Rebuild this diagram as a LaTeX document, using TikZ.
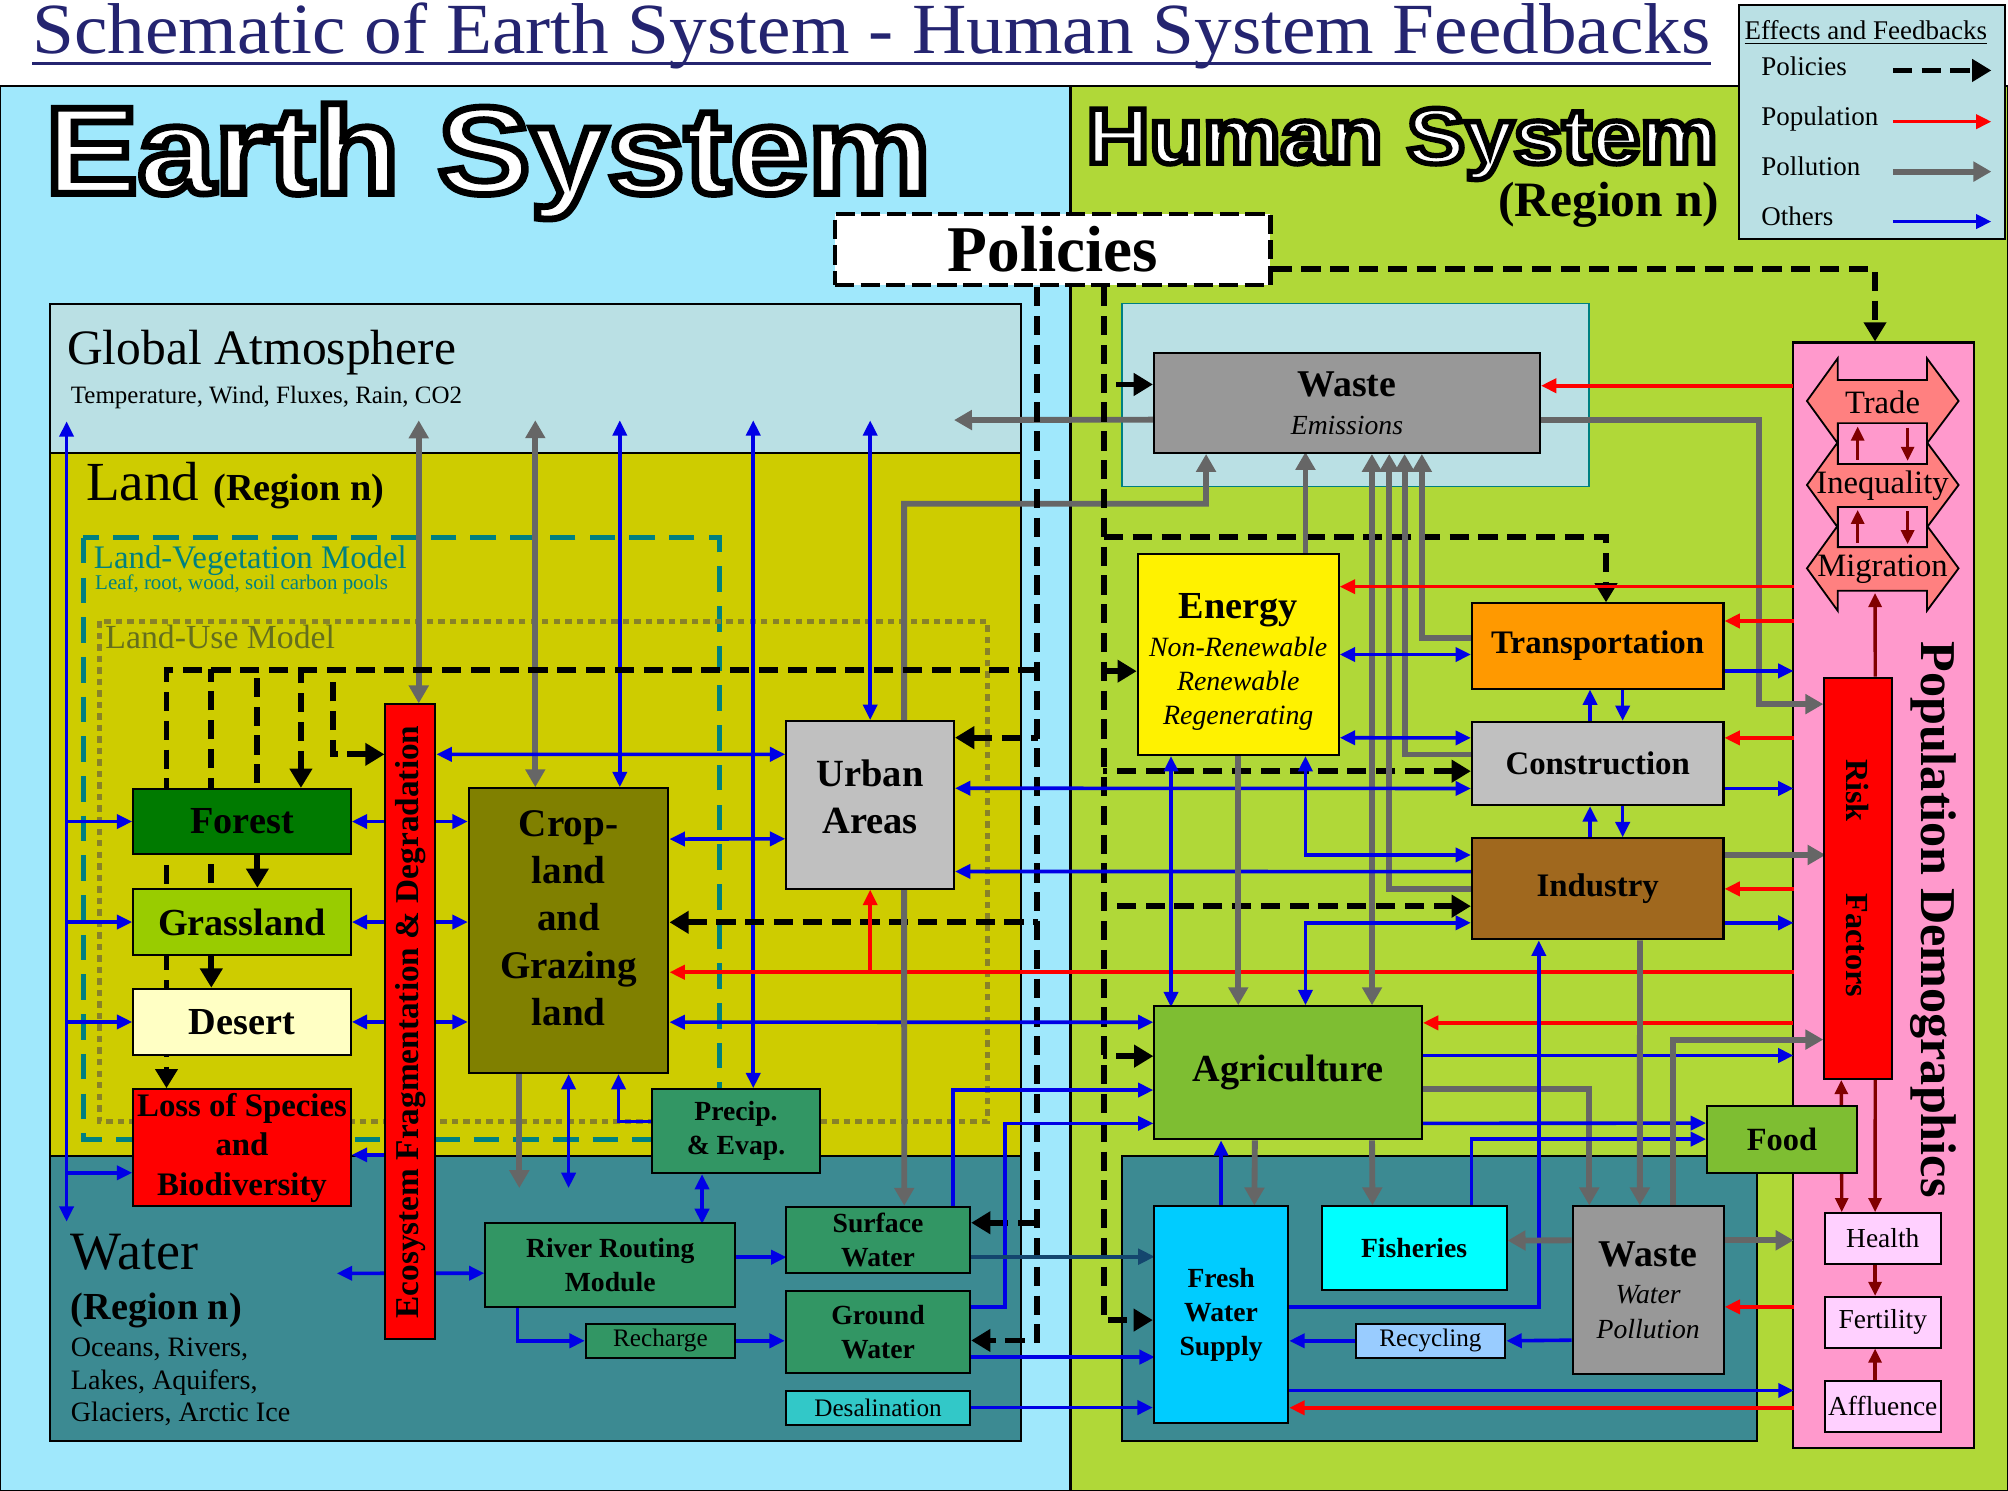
\documentclass[tikz,border=0pt]{standalone}
\usepackage{fontspec}
\setmainfont{Liberation Serif}
\newfontfamily\headfont{Liberation Sans}
\usetikzlibrary{arrows.meta}
\pgfdeclarelayer{back}
\pgfdeclarelayer{mid}
\pgfsetlayers{back,mid,main}
\definecolor{earthbg}{RGB}{160,232,252}
\definecolor{humanbg}{RGB}{176,216,56}
\definecolor{atmos}{RGB}{186,224,228}
\definecolor{landfill}{RGB}{206,204,0}
\definecolor{waterfill}{RGB}{60,138,146}
\definecolor{forestc}{RGB}{0,122,0}
\definecolor{grassc}{RGB}{153,204,0}
\definecolor{desertc}{RGB}{255,255,196}
\definecolor{cropc}{RGB}{128,128,0}
\definecolor{urbanc}{RGB}{192,192,192}
\definecolor{hydroc}{RGB}{50,150,100}
\definecolor{desalc}{RGB}{50,200,200}
\definecolor{wastec}{RGB}{152,152,152}
\definecolor{transc}{RGB}{255,153,0}
\definecolor{indc}{RGB}{160,104,30}
\definecolor{agric}{RGB}{126,190,50}
\definecolor{freshc}{RGB}{0,204,255}
\definecolor{fishc}{RGB}{0,255,255}
\definecolor{recyc}{RGB}{153,204,255}
\definecolor{popc}{RGB}{255,153,204}
\definecolor{healthc}{RGB}{255,208,255}
\definecolor{tradec}{RGB}{255,128,128}
\definecolor{titlec}{RGB}{36,36,112}
\definecolor{tealdash}{RGB}{0,128,128}
\definecolor{olivedot}{RGB}{136,130,40}
\definecolor{lutext}{RGB}{100,110,30}
\definecolor{cblue}{RGB}{0,0,230}
\definecolor{cred}{RGB}{255,0,0}
\definecolor{cgrey}{RGB}{102,102,102}
\definecolor{cdred}{RGB}{128,0,0}
\definecolor{cdeep}{RGB}{20,70,110}

\begin{document}
\begin{tikzpicture}[x=0.02cm, y=-0.02cm,
  box/.style={draw=black, line width=0.9pt, align=center, inner sep=0pt},
  lbl17/.style={font=\fontsize{17}{21}\selectfont\bfseries},
  lbl15/.style={font=\fontsize{14.6}{17.6}\selectfont\bfseries},
  lbl12/.style={font=\fontsize{12.3}{15}\selectfont\bfseries},
  lbl11/.style={font=\fontsize{11.2}{13}\selectfont},
  blu/.style={draw=cblue, line width=1.6pt, >={Triangle[length=0.24cm,width=0.22cm]}},
  dblu/.style={draw=cdeep, line width=1.8pt, >={Triangle[length=0.26cm,width=0.24cm]}},
  rd/.style={draw=cred, line width=1.6pt, >={Triangle[length=0.24cm,width=0.22cm]}},
  drd/.style={draw=cdred, line width=1.5pt, >={Triangle[length=0.22cm,width=0.2cm]}},
  gry/.style={draw=cgrey, line width=2.6pt, >={Triangle[length=0.28cm,width=0.3cm]}},
  pol/.style={draw=black, line width=2.6pt, dash pattern=on 0.3cm off 0.15cm, >={Triangle[length=0.3cm,width=0.34cm]}}]
%%%%%%%%%%%%%%%%%%%%%%%%%%%%%%%%%%%%%%%%%%% HELP LINES
%\draw[help lines] (0,0) grid (1568,1164);
\useasboundingbox (0,0) rectangle (1568,1164);

%%%%%%%%%%%%%%%%%%%%%%%%%%%%%%%%%%%%%%%%%%% regions
\begin{pgfonlayer}{back}
\fill[white] (0,0) rectangle (1568,1164);
\fill[earthbg] (0,67) rectangle (836,1164);
\fill[humanbg] (836,67) rectangle (1568,1164);
\draw[line width=1pt] (0,67) rectangle (1568,1164);
\draw[line width=1pt] (836,67) -- (836,1164);
\draw[fill=atmos, line width=0.9pt] (39,237) rectangle (797,354);
\draw[fill=landfill, line width=0.9pt] (39,354) rectangle (797,903);
\draw[fill=waterfill, line width=0.9pt] (39,903) rectangle (797,1125);
\draw[tealdash, line width=2.2pt, dash pattern=on 0.4cm off 0.22cm] (65,420) rectangle (562,890);
\draw[olivedot, line width=2.2pt, dash pattern=on 0.1cm off 0.08cm] (78,485) rectangle (771,876);
\draw[fill=atmos, draw=tealdash, line width=0.7pt] (876,237) rectangle (1241,380);
\draw[fill=waterfill, line width=0.9pt] (876,903) rectangle (1372,1125);
\node[draw, line width=0.9pt, fill=popc, minimum width=2.834cm, minimum height=17.27cm, inner sep=0pt] (pop) at (1470.65,699.1) {};
\end{pgfonlayer}

%%%%%%%%%%%%%%%%%%%%%%%%%%%%%%%%%%%%%%%%%%% titles
\node[anchor=base west, inner sep=0pt, text=titlec, font=\fontsize{32}{36}\selectfont] (title) at (25,42) {\scalebox{1.045}[1]{Schematic of Earth System - Human System Feedbacks}};
\draw[titlec, line width=1.6pt] ([yshift=-0.15cm]title.base west) -- ([yshift=-0.15cm]title.base east);
\node[anchor=base west, inner sep=0pt, text=white, font=\fontsize{55}{60}\selectfont\headfont\bfseries] (earthtitle) at (35,151) {\special{pdf:literal direct 0 0 0 RG 2 Tr 3 w}\scalebox{1.12}[1]{Earth System}\special{pdf:literal direct 0 Tr}};
\node[anchor=base west, inner sep=0pt, text=white, font=\fontsize{35}{40}\selectfont\headfont\bfseries] (humantitle) at (848,127.5) {\special{pdf:literal direct 0 0 0 RG 2 Tr 2.4 w}\scalebox{1.11}[1]{Human System}\special{pdf:literal direct 0 Tr}};
\node[anchor=base east, inner sep=0pt, font=\fontsize{22}{26}\selectfont\bfseries] (humanregion) at (1343,169) {(Region n)};

%%%%% legend
\node[draw, line width=0.9pt, fill=atmos, minimum width=4.16cm, minimum height=3.66cm, inner sep=0pt] (legend) at (1462,95.5) {};
\node[anchor=base west, inner sep=0pt, font=\fontsize{12}{14}\selectfont] (legtitle) at (1362,31) {\underline{Effects and Feedbacks}};
\node[anchor=base west, inner sep=0pt, font=\fontsize{12}{14}\selectfont] (legpol) at (1375,59) {Policies};
\node[anchor=base west, inner sep=0pt, font=\fontsize{12}{14}\selectfont] (legpop) at (1375,98) {Population};
\node[anchor=base west, inner sep=0pt, font=\fontsize{12}{14}\selectfont] (legpoll) at (1375,137) {Pollution};
\node[anchor=base west, inner sep=0pt, font=\fontsize{12}{14}\selectfont] (legoth) at (1375,176) {Others};
\draw[pol,->] (1478,55) -- (1555,55);
\draw[rd,->] (1478,95) -- (1555,95);
\draw[gry,->] (1478,134) -- (1555,134);
\draw[blu,->] (1478,173) -- (1555,173);

%%%%%%%%%%%%%%%%%%%%%%%%%%%%%%%%%%%%%%%%%%% earth system labels
\node[anchor=base west, inner sep=0pt, font=\fontsize{22}{26}\selectfont] (atmtxt) at (52,285) {Global Atmosphere};
\node[anchor=base west, inner sep=0pt, font=\fontsize{11.1}{13}\selectfont] (atmsub) at (55,315) {Temperature, Wind, Fluxes, Rain, CO2};
\node[anchor=base west, inner sep=0pt, font=\fontsize{24.5}{28}\selectfont] (landtxt) at (67,391) {Land {\bfseries\fontsize{17}{20}\selectfont (Region n)}};
\node[anchor=base west, inner sep=0pt, text=tealdash, font=\fontsize{14.6}{17}\selectfont] (lvmtxt) at (73,444) {Land-Vegetation Model};
\node[anchor=base west, inner sep=0pt, text=tealdash, font=\fontsize{9.3}{11}\selectfont] (lvmsub) at (74,460) {Leaf, root, wood, soil carbon pools};
\node[anchor=base west, inner sep=0pt, text=lutext, font=\fontsize{15}{17}\selectfont] (lumtxt) at (82,506) {Land-Use Model};
\node[anchor=base west, inner sep=0pt, font=\fontsize{24}{28}\selectfont] (watertxt) at (55,991) {Water};
\node[anchor=base west, inner sep=0pt, font=\fontsize{17}{20}\selectfont\bfseries] (waterreg) at (55,1030) {(Region n)};
\node[anchor=base west, inner sep=0pt, font=\fontsize{12.5}{14}\selectfont] (watsub1) at (55,1059) {Oceans, Rivers,};
\node[anchor=base west, inner sep=0pt, font=\fontsize{12.5}{14}\selectfont] (watsub2) at (55,1085) {Lakes, Aquifers,};
\node[anchor=base west, inner sep=0pt, font=\fontsize{12.5}{14}\selectfont] (watsub3) at (55,1110) {Glaciers, Arctic Ice};

%%%%%%%%%%%%%%%%%%%%%%%%%%%%%%%%%%%%%%%%%%% earth elements
\node[box, fill=white, draw=black, line width=2pt, dash pattern=on 0.3cm off 0.1cm, minimum width=6.8cm, minimum height=1.11cm, font=\fontsize{29}{32}\selectfont\bfseries] (policies) at (822,194.8) {Policies};
\node[box, fill=forestc, minimum width=3.4cm, minimum height=1.02cm, lbl17] (forest) at (189,641.5) {Forest};
\node[box, fill=grassc, minimum width=3.4cm, minimum height=1.04cm, lbl17] (grass) at (189,720) {Grassland};
\node[box, fill=desertc, minimum width=3.4cm, minimum height=1.04cm, lbl17] (desert) at (189,798) {Desert};
\node[box, fill=red, minimum width=3.4cm, minimum height=1.83cm, lbl15] (loss) at (189,896.3) {Loss of Species\\and\\Biodiversity};
\node[box, fill=red, minimum width=0.78cm, minimum height=9.92cm, font=\fontsize{14.8}{17}\selectfont\bfseries] (ecobar) at (320.5,798) {\rotatebox{90}{Ecosystem Fragmentation \& Degradation}};
\node[box, fill=cropc, minimum width=3.12cm, minimum height=4.45cm] (crop) at (444,726.7) {};
\node[align=center, inner sep=0pt, font=\fontsize{17.4}{21}\selectfont\bfseries] (croptxt) at (444,717) {Crop-\\land\\and\\Grazing\\land};
\node[box, fill=urbanc, minimum width=2.62cm, minimum height=2.62cm] (urban) at (679.5,628.5) {};
\node[align=center, inner sep=0pt, font=\fontsize{17.1}{21}\selectfont\bfseries] (urbantxt) at (679.5,622.5) {Urban\\Areas};
\node[box, fill=hydroc, minimum width=2.61cm, minimum height=1.31cm, lbl12] (precip) at (574.7,883.3) {Precip.\\\& Evap.};
\node[box, fill=hydroc, minimum width=3.9cm, minimum height=1.31cm, lbl12] (rr) at (476.5,987.7) {River Routing\\Module};
\node[box, fill=hydroc, minimum width=2.33cm, minimum height=0.54cm, lbl11] (recharge) at (515.7,1047) {Recharge};
\node[box, fill=hydroc, minimum width=2.88cm, minimum height=1.04cm, lbl12] (surface) at (685.6,968.3) {Surface\\Water};
\node[box, fill=hydroc, minimum width=2.88cm, minimum height=1.29cm, lbl12] (ground) at (685.6,1040.2) {Ground\\Water};
\node[box, fill=desalc, minimum width=2.88cm, minimum height=0.53cm, lbl11] (desal) at (685.6,1099.1) {Desalination};

%%%%%%%%%%%%%%%%%%%%%%%%%%%%%%%%%%%%%%%%%%% human elements
\node[box, fill=wastec, minimum width=6.03cm, minimum height=1.56cm, font=\fontsize{12.3}{16}\selectfont] (wasteE) at (1051.8,314.7) {{\fontsize{16.8}{20}\selectfont\bfseries Waste}\\[1pt]{\itshape Emissions}};
\node[box, fill=yellow, minimum width=3.14cm, minimum height=3.14cm] (energy) at (966.9,511.1) {};
\node[align=center, inner sep=0pt, font=\fontsize{12.4}{15.1}\selectfont] (energytxt) at (966.9,517) {{\fontsize{17}{20}\selectfont\bfseries Energy}\\[2pt]{\itshape Non-Renewable}\\{\itshape Renewable}\\{\itshape Regenerating}};
\node[box, fill=transc, minimum width=3.93cm, minimum height=1.33cm, lbl15] (transport) at (1247.6,504.4) {Transportation};
\node[box, fill=urbanc, minimum width=3.93cm, minimum height=1.3cm, lbl15] (constr) at (1247.6,596.2) {Construction};
\node[box, fill=indc, minimum width=3.93cm, minimum height=1.58cm, lbl15] (industry) at (1247.6,694.1) {Industry};
\node[box, fill=agric, minimum width=4.18cm, minimum height=2.08cm, lbl17] (agri) at (1005.9,837.7) {Agriculture};
\node[box, fill=agric, minimum width=2.34cm, minimum height=1.05cm, font=\fontsize{14.4}{17}\selectfont\bfseries] (food) at (1391.5,889.5) {Food};
\node[box, fill=freshc, minimum width=2.1cm, minimum height=3.39cm, lbl12] (fresh) at (953.5,1026.8) {Fresh\\Water\\Supply};
\node[box, fill=fishc, minimum width=2.89cm, minimum height=1.31cm, lbl12] (fish) at (1104.2,974.7) {Fisheries};
\node[box, fill=wastec, minimum width=2.36cm, minimum height=2.62cm, font=\fontsize{12.3}{15.3}\selectfont] (wasteW) at (1287,1007.5) {{\fontsize{16.8}{20}\selectfont\bfseries Waste}\\[1pt]{\itshape Water}\\{\itshape Pollution}};
\node[box, fill=recyc, minimum width=2.34cm, minimum height=0.53cm, lbl11] (recyc) at (1117,1047) {Recycling};

%%%%% population demographics
\node[inner sep=0pt, font=\fontsize{22.3}{26}\selectfont\bfseries] (poptxt) at (1510,718) {\rotatebox{-90}{Population Demographics}};
\node[box, fill=red, minimum width=1.05cm, minimum height=6.27cm, font=\fontsize{14.3}{17}\selectfont\bfseries] (risk) at (1450.8,685.8) {\rotatebox{-90}{Risk\hspace{1.12cm}Factors}};
\node[box, fill=healthc, minimum width=1.82cm, minimum height=0.79cm, font=\fontsize{12.2}{14}\selectfont] (health) at (1470.2,967.1) {Health};
\node[box, fill=healthc, minimum width=1.82cm, minimum height=0.79cm, font=\fontsize{12.2}{14}\selectfont] (fert) at (1470.2,1032.5) {Fertility};
\node[box, fill=healthc, minimum width=1.82cm, minimum height=0.79cm, font=\fontsize{12.2}{14}\selectfont] (affl) at (1470.2,1098.1) {Affluence};
\foreach \cy in {313.1,378.7,443.8}
  \filldraw[fill=tradec, draw=black, line width=0.8pt] (1411,\cy) -- (1435,{\cy-33.3}) -- (1435,{\cy-16.4}) -- (1504.7,{\cy-16.4}) -- (1504.7,{\cy-33.3}) -- (1529.4,\cy) -- (1504.7,{\cy+33.1}) -- (1504.7,{\cy+17.5}) -- (1435,{\cy+17.5}) -- (1435,{\cy+33.1}) -- cycle;
\node[inner sep=0pt, font=\fontsize{14.5}{17}\selectfont] (trade) at (1470,314) {Trade};
\node[inner sep=0pt, font=\fontsize{14.5}{17}\selectfont] (ineq) at (1470,379.5) {Inequality};
\node[inner sep=0pt, font=\fontsize{14.5}{17}\selectfont] (migr) at (1470,444.5) {Migration};
\node[draw, line width=0.8pt, fill=popc, minimum width=1.39cm, minimum height=0.63cm, inner sep=0pt] (link1) at (1469.85,346.45) {};
\node[draw, line width=0.8pt, fill=popc, minimum width=1.39cm, minimum height=0.63cm, inner sep=0pt] (link2) at (1469.85,411.55) {};
\draw[drd,->] ([xshift=-0.385cm,yshift=0.08cm]link1.south) -- ([xshift=-0.385cm,yshift=-0.06cm]link1.north);
\draw[drd,->] ([xshift=0.395cm,yshift=-0.08cm]link1.north) -- ([xshift=0.395cm,yshift=0.06cm]link1.south);
\draw[drd,->] ([xshift=-0.385cm,yshift=0.08cm]link2.south) -- ([xshift=-0.385cm,yshift=-0.06cm]link2.north);
\draw[drd,->] ([xshift=0.395cm,yshift=-0.08cm]link2.north) -- ([xshift=0.395cm,yshift=0.06cm]link2.south);

%%%%%%%%%%%%%%%%%%%%%%%%%%%%%%%%%%%%%%%%%%% connectors
\coordinate (atmL) at (52,329);
\coordinate (watL) at (52,954);
\coordinate (atmR) at (745,328);
\coordinate (watC) at (263,994.3);
\coordinate (polW) at (810,523);
\coordinate (polE) at (862,419);
\coordinate (migB) at (1464.2,463);
\begin{pgfonlayer}{mid}
%%%%% earth <-> atmosphere
\draw[blu,<->] (atmL) -- (watL);
\draw[blu,->] (atmL |- forest.west) -- (forest.west);
\draw[blu,->] (atmL |- grass.west) -- (grass.west);
\draw[blu,->] (atmL |- desert.west) -- (desert.west);
\draw[blu,<-] ([yshift=-0.39cm]loss.west) -- ++(-52,0);
\draw[gry,<->] ([xshift=0.13cm]ecobar.north) -- ++(0,-221);
\draw[gry,<->] ([xshift=-0.52cm]crop.north) -- ++(0,-286.5);
\draw[blu,<->] ([xshift=0.8cm]crop.north) -- ++(0,-286.5);
\draw[blu,<->] ([xshift=0.27cm]precip.north) -- ++(0,-521.6);
\draw[blu,<->] (urban.north) -- ++(0,-234);
\draw[gry,->] ([yshift=-0.26cm]wasteE.west) -- (atmR);
\draw[gry,->] ([xshift=0.53cm]urban.north) |- (941.7,393.3) -- ([xshift=-2.2cm]wasteE.south);

%%%%% policies
\draw[pol,->] ([xshift=-0.24cm]policies.south) |- ([yshift=-0.13cm]ground.east);
\draw[pol,<-] ([yshift=0.27cm]surface.east) -- ++(52.4,0);
\draw[pol,<-] ([yshift=0.13cm]crop.east) -- ++(288,0);
\draw[pol,<-] ([yshift=1.05cm]urban.east) -- ++(65,0);
\draw[pol,->] (polW) -| ([xshift=-1.18cm]loss.north);
\draw[pol,<-] ([xshift=-0.48cm]desert.north) -- ++(0,-249);
\draw[pol,<-] ([xshift=0.24cm]grass.north) -- ++(0,-171);
\draw[pol,<-] ([xshift=0.92cm]forest.north) -- ++(0,-92.5);
\draw[pol,<-] ([yshift=4.18cm]ecobar.west) -| (260,523);
\draw[pol,->] ([xshift=0.8cm]policies.south) |- ([yshift=-0.08cm]fresh.west);
\draw[pol,<-] ([yshift=0.29cm]wasteE.west) -- ++(-39,0);
\draw[pol,->] (polE) -| ([xshift=0.13cm]transport.north);
\draw[pol,<-] ([yshift=-0.26cm]energy.west) -- ++(-26.4,0);
\draw[pol,<-] ([yshift=-0.12cm]constr.west) -- ++(-287.3,0);
\draw[pol,<-] ([yshift=-0.27cm]industry.west) -- ++(-287.3,0);
\draw[pol,<-] ([yshift=0.26cm]agri.west) -- ++(-39.3,0);
\draw[pol,->] ([yshift=-0.31cm]policies.east) -| ([xshift=-0.13cm]pop.north);

%%%%% land and water
\draw[blu,<->] (forest.east) -- (forest.east -| crop.west);
\draw[blu,<->] (grass.east) -- (grass.east -| crop.west);
\draw[blu,<->] (desert.east) -- (desert.east -| crop.west);
\draw[blu,<-] ([yshift=-0.11cm]loss.east) -- ++(27,0);
\draw[blu,<->] (watC) -- ([yshift=-0.13cm]rr.west);
\draw[blu,<->] ([yshift=4.18cm]ecobar.east) -- ([yshift=0.79cm]urban.west);
\draw[blu,<->] ([yshift=1.43cm]crop.east) -- ([yshift=-0.53cm]urban.west);
\draw[rd,<-] ([yshift=-0.65cm]crop.east) -- ++(877.8,0);
\draw[rd,<-] (urban.south) -- ++(0,65);
\draw[blu,<->] ([yshift=-1.43cm]crop.east) -- ([yshift=0.79cm]agri.west);
\draw[gry,->] ([xshift=0.53cm]urban.south) -- ([xshift=0.41cm]surface.north);
\draw[gry,->] ([xshift=-0.77cm]crop.south) -- ++(0,89);
\draw[blu,<->] (crop.south) -- ++(0,89);
\draw[blu,->] ([yshift=0.15cm]precip.west) -| ([xshift=0.78cm]crop.south);
\draw[blu,<->] ([xshift=-0.53cm]precip.south) -- ++(0,39);
\draw[blu,->] ([yshift=0.12cm]rr.east) -- ++(39.4,0);
\draw[blu,->] ([xshift=-1.45cm]rr.south) |- (recharge.west);
\draw[blu,->] (recharge.east) -- (recharge.east -| ground.west);
\draw[blu,->] ([xshift=1.17cm]surface.north) |- ([yshift=-0.27cm]agri.west);
\draw[blu,->] ([yshift=0.39cm]ground.east) -- ++(26.4,0) |- ([yshift=-0.79cm]agri.west);
\draw[dblu,->] ([yshift=-0.26cm]surface.east) -- ++(143.4,0);
\draw[blu,->] ([yshift=-0.39cm]ground.east) -- ++(143.4,0);
\draw[blu,->] (desal.east) -- (desal.east -| fresh.west);

%%%%% human system
\draw[rd,<-] ([yshift=0.27cm]wasteE.east) -- ++(197.1,0);
\draw[gry,->] ([yshift=-0.26cm]wasteE.east) -- ++(169.9,0) |- ([yshift=2.72cm]risk.west);
\draw[gry,->] ([xshift=1.05cm]energy.north) -- ++(0,-78.9);
\draw[gry,->] ([yshift=0.12cm]transport.west) -| ([xshift=1.17cm]wasteE.south);
\draw[gry,->] ([yshift=0.14cm]constr.west) -| ([xshift=0.9cm]wasteE.south);
\draw[gry,->] (industry.west) -| ([xshift=0.66cm]wasteE.south);
\draw[gry,<->] ([xshift=0.39cm]wasteE.south) -- ([xshift=1.31cm]agri.north);
\draw[rd,<-] ([yshift=1.06cm]energy.east) -- ++(354.4,0);
\draw[blu,<->] (energy.east) -- (energy.east -| transport.west);
\draw[rd,<-] ([yshift=0.39cm]transport.east) -- ++(53.9,0);
\draw[blu,->] ([yshift=-0.39cm]transport.east) -- ++(53.9,0);
\draw[blu,<->] ([yshift=-1.3cm]energy.east) -- ([yshift=0.4cm]constr.west);
\draw[rd,<-] ([yshift=0.4cm]constr.east) -- ++(53.9,0);
\draw[blu,<->] ([yshift=0.26cm]urban.east) -- ([yshift=-0.39cm]constr.west);
\draw[blu,->] ([yshift=-0.39cm]constr.east) -- ++(53.9,0);
\draw[blu,->] ([xshift=-0.12cm]constr.north) -- ([xshift=-0.12cm]transport.south);
\draw[blu,->] ([xshift=0.39cm]transport.south) -- ([xshift=0.39cm]constr.north);
\draw[blu,->] ([xshift=-0.12cm]industry.north) -- ([xshift=-0.12cm]constr.south);
\draw[blu,->] ([xshift=0.39cm]constr.south) -- ([xshift=0.39cm]industry.north);
\draw[blu,<->] ([xshift=1.05cm]energy.south) |- ([yshift=0.53cm]industry.west);
\draw[blu,->] ([yshift=0.27cm]industry.west) -- ([yshift=-1.04cm]urban.east);
\draw[blu,<->] ([yshift=-0.53cm]industry.west) -| ([xshift=0.27cm]agri.north);
\draw[blu,<->] ([xshift=-1.05cm]energy.south) -- ++(0,196.1);
\draw[gry,->] (energy.south) -- (energy.south |- agri.north);
\draw[gry,->] ([yshift=0.53cm]industry.east) -- ++(78.9,0);
\draw[rd,<-] (industry.east) -- ++(53.9,0);
\draw[blu,->] ([yshift=-0.53cm]industry.east) -- ++(53.9,0);
\draw[rd,<-] ([yshift=0.78cm]agri.east) -- ++(289.3,0);
\draw[blu,->] ([yshift=0.27cm]agri.east) -- ++(289.3,0);
\draw[gry,->] ([yshift=-0.25cm]agri.east) -| ([xshift=-0.92cm]wasteW.north);
\draw[blu,->] ([yshift=-0.79cm]agri.east) -- ([yshift=0.25cm]food.west);
\draw[blu,->] ([xshift=0.9cm]fish.north) |- (food.west);
\draw[gry,->] ([xshift=0.66cm]industry.south) -- ([xshift=-0.13cm]wasteW.north);
\draw[gry,->] ([xshift=0.39cm]wasteW.north) |- ([yshift=-2.52cm]risk.west);
\draw[blu,->] ([yshift=0.12cm]fresh.east) -| ([xshift=-0.92cm]industry.south);
\draw[blu,->] (fresh.north) -- (fresh.north |- agri.south);
\draw[gry,->] ([xshift=-0.52cm]agri.south) -- ([xshift=0.52cm]fresh.north);
\draw[gry,->] ([xshift=1.31cm]agri.south) -- ([xshift=-0.65cm]fish.north);
\draw[gry,->] ([yshift=0.78cm]wasteW.west) -- ([yshift=0.12cm]fish.east);
\draw[gry,->] ([yshift=0.78cm]wasteW.east) -- ++(53.8,0);
\draw[blu,->] ([yshift=-0.78cm]wasteW.west) -- (recyc.east);
\draw[blu,->] (recyc.west) -- (recyc.west -| fresh.east);
\draw[rd,<-] ([yshift=-0.26cm]wasteW.east) -- ++(53.8,0);
\draw[blu,->] ([yshift=-1.18cm]fresh.east) -- ++(393.8,0);
\draw[rd,<-] ([yshift=-1.45cm]fresh.east) -- ++(393.8,0);

%%%%% population
\draw[drd,->] ([xshift=0.27cm]risk.north) -- (migB);
\draw[drd,<->] ([xshift=-0.26cm]risk.south) -- ([xshift=-0.64cm]health.north);
\draw[drd,->] ([xshift=0.27cm]risk.south) -- ([xshift=-0.12cm]health.north);
\draw[drd,->] ([xshift=-0.12cm]health.south) -- ([xshift=-0.12cm]fert.north);
\draw[drd,->] ([xshift=-0.12cm]affl.north) -- ([xshift=-0.12cm]fert.south);
\end{pgfonlayer}

\end{tikzpicture}
\end{document}
